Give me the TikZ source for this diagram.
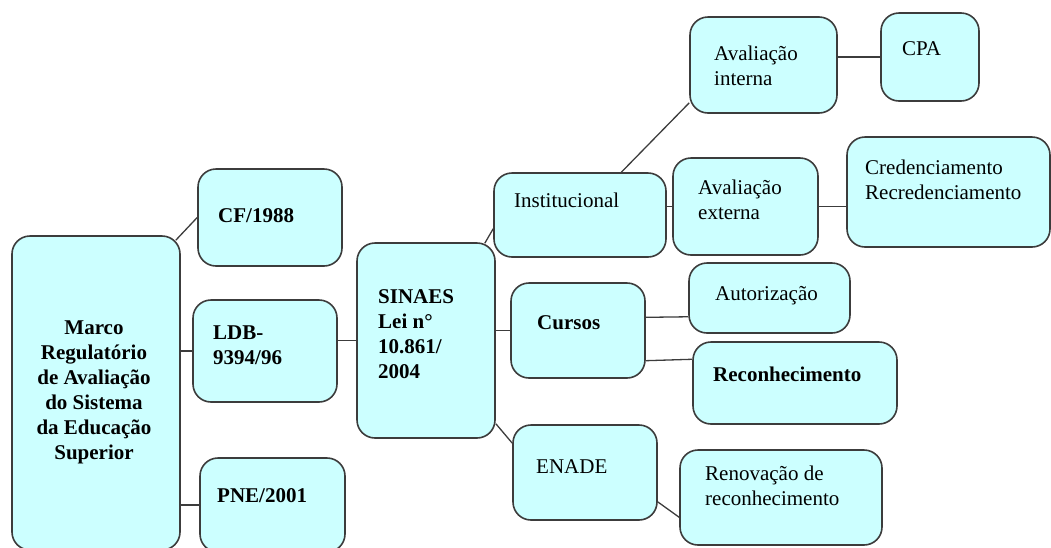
\documentclass[tikz,border=0pt]{standalone}
\usepackage{fontspec}
\setmainfont{Liberation Serif}
\definecolor{boxcyan}{RGB}{204,255,255}
\definecolor{boxline}{RGB}{60,60,60}

\begin{document}
\begin{tikzpicture}[x=1pt,y=-1pt,
    box/.style={draw=boxline, line width=1.6pt, fill=boxcyan, rounded corners=18pt, inner sep=0pt},
    txt/.style={anchor=base west, inner sep=0pt, align=left, font=\fontsize{21}{25}\selectfont},
    btxt/.style={txt, font=\fontsize{21}{25}\selectfont\bfseries},
    link/.style={draw=boxline, line width=1.3pt}]
    \useasboundingbox (0,0) rectangle (1051,547);

    % boxes
    \node[box, minimum width=168pt, minimum height=314pt] (marco) at (96,393) {};
    \node[box, minimum width=144pt, minimum height=97pt] (cf) at (270,217.5) {};
    \node[box, minimum width=144pt, minimum height=102pt] (ldb) at (265,351) {};
    \node[box, minimum width=145pt, minimum height=94pt] (pne) at (272.5,505) {};
    \node[box, minimum width=138pt, minimum height=195pt] (sinaes) at (426,340.5) {};
    \node[box, minimum width=172pt, minimum height=84pt] (inst) at (580,215) {};
    \node[box, minimum width=134pt, minimum height=95pt] (cursos) at (578,330.5) {};
    \node[box, minimum width=144pt, minimum height=95pt] (enade) at (585,472.5) {};
    \node[box, minimum width=147pt, minimum height=96pt] (avint) at (763.5,65) {};
    \node[box, minimum width=98pt, minimum height=88pt] (cpa) at (930,57) {};
    \node[box, minimum width=145pt, minimum height=97pt] (avext) at (745.5,206.5) {};
    \node[box, minimum width=203pt, minimum height=110pt] (cred) at (948.5,192) {};
    \node[box, minimum width=161pt, minimum height=70pt] (autor) at (769.5,298) {};
    \node[box, minimum width=204pt, minimum height=82pt] (recon) at (795,383) {};
    \node[box, minimum width=202pt, minimum height=95pt] (renov) at (781,497.5) {};

    % texts (multi-line: placed at the baseline of the last line)
    \node[btxt, anchor=base, align=center] (marcot) at (94,459) {Marco\\Regulatório\\de Avaliação\\do Sistema\\da Educação\\Superior};
    \node[btxt] (cft) at (218,222) {CF/1988};
    \node[btxt] (ldbt) at (213,364) {LDB-\\9394/96};
    \node[btxt] (pnet) at (217,502) {PNE/2001};
    \node[btxt] (sinaest) at (378,378) {SINAES\\Lei n°\\10.861/\\2004};
    \node[txt] (instt) at (514,207) {Institucional};
    \node[btxt] (cursost) at (537,329) {Cursos};
    \node[txt] (enadet) at (536,473) {ENADE};
    \node[txt] (avintt) at (714,85) {Avaliação\\interna};
    \node[txt] (cpat) at (902,55) {CPA};
    \node[txt] (avextt) at (698,219) {Avaliação\\externa};
    \node[txt] (credt) at (865,199) {Credenciamento\\Recredenciamento};
    \node[txt] (autort) at (715,300) {Autorização};
    \node[btxt] (recont) at (713,381) {Reconhecimento};
    \node[txt] (renovt) at (705,505) {Renovação de\\reconhecimento};

    % connectors
    \draw[link] (cf.west) -- ([xshift=-5pt,yshift=-5pt]marco.north east);
    \draw[link] (ldb.west) -- (ldb.west -| marco.east);
    \draw[link] (pne.west) -- (pne.west -| marco.east);
    \draw[link] (sinaes.west) -- (sinaes.west -| ldb.east);
    \draw[link] ([xshift=-11pt,yshift=-1pt]sinaes.north east) -- (inst.189);
    \draw[link] (cursos.west) -- (cursos.west -| sinaes.east);
    \draw[link] (sinaes.-50) -- (enade.158);
    \draw[link] (cursos.11) -- (autor.193);
    \draw[link] (cursos.-24) -- (recon.167);
    \draw[link] (enade.-22) -- (renov.191);
    \draw[link] (inst.46) -- (avint.207);
    \draw[link] (cpa.west -| avint.east) -- (cpa.west);
    \draw[link] (avext.west -| inst.east) -- (avext.west);
    \draw[link] (avext.east) -- (avext.east -| cred.west);
\end{tikzpicture}
\end{document}
